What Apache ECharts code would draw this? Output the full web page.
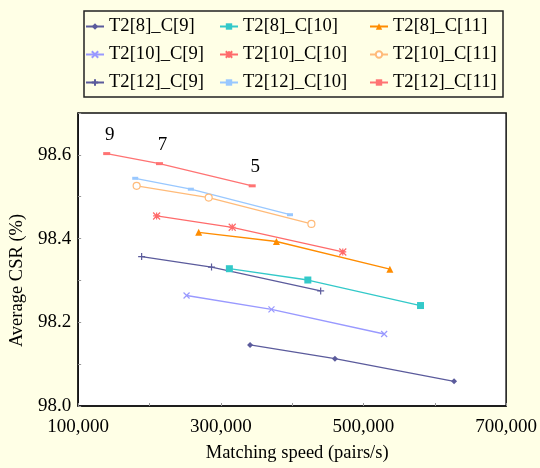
<!DOCTYPE html>
<html>
<head>
<meta charset="utf-8">
<script src="https://cdn.jsdelivr.net/npm/echarts@6/dist/echarts.min.js"></script>
<style>
	html, body { margin: 0; padding: 0; background: #ffffe6; }
	#chart { width: 540px; height: 468px; }
</style>
</head>
<body>
<div id="chart"></div>
<script>
// matching speed (pairs/s) and average CSR (%)
var names = ['T2[8]_C[9]', 'T2[8]_C[10]', 'T2[8]_C[11]',
	'T2[10]_C[9]', 'T2[10]_C[10]', 'T2[10]_C[11]',
	'T2[12]_C[9]', 'T2[12]_C[10]', 'T2[12]_C[11]'];

var speed8c9 = [341000, 460000, 627000];
var csr8c9 = [98.146, 98.113, 98.059];
var speed8c10 = [312000, 422000, 580000];
var csr8c10 = [98.328, 98.301, 98.240];
var speed8c11 = [269000, 378000, 537000];
var csr8c11 = [98.415, 98.393, 98.327];
var speed10c9 = [252000, 371000, 529000];
var csr10c9 = [98.264, 98.231, 98.172];
var speed10c10 = [210000, 316000, 471000];
var csr10c10 = [98.454, 98.427, 98.368];
var speed10c11 = [182000, 283000, 427000];
var csr10c11 = [98.526, 98.498, 98.435];
var speed12c9 = [189000, 287000, 440000];
var csr12c9 = [98.357, 98.332, 98.275];
var speed12c10 = [180000, 258000, 397000];
var csr12c10 = [98.544, 98.518, 98.457];
var speed12c11 = [140000, 214000, 344000];
var csr12c11 = [98.603, 98.579, 98.526];
var pointNotes = ['9', '7', '5'];

var xTicks = ['100,000', '300,000', '500,000', '700,000'];
var yTicks = ['98.0', '98.2', '98.4', '98.6'];

var font = 'Liberation Serif';

function pairs(xs, ys) {
	var out = [];
	for (var i = 0; i < xs.length; i++) out.push([xs[i], ys[i]]);
	return out;
}

function mkSeries(name, xs, ys, color, symbol, size, stroke) {
	return {
		name: name,
		type: 'line',
		data: pairs(xs, ys),
		symbol: symbol,
		symbolSize: size,
		showSymbol: true,
		lineStyle: { color: color, width: 1.3 },
		itemStyle: stroke ? { color: color, borderColor: color, borderWidth: 1.2 } : { color: color },
		emphasis: { disabled: true },
		z: 3
	};
}

var xPath = 'path://M0,0L10,10M10,0L0,10';
var starPath = 'path://M0,0L10,10M10,0L0,10M5,0L5,10M0,5L10,5';
var plusPath = 'path://M5,0L5,10M0,5L10,5';

var series = [
	mkSeries(names[0], speed8c9, csr8c9, '#5b5b9c', 'diamond', 6),
	mkSeries(names[1], speed8c10, csr8c10, '#33c9c9', 'rect', 7),
	mkSeries(names[2], speed8c11, csr8c11, '#ff8c00', 'triangle', 7),
	mkSeries(names[3], speed10c9, csr10c9, '#9999ff', xPath, 6, true),
	mkSeries(names[4], speed10c10, csr10c10, '#ff6b6b', starPath, 7, true),
	{
		name: names[5], type: 'line', data: pairs(speed10c11, csr10c11),
		symbol: 'circle', symbolSize: 7,
		lineStyle: { color: '#ffbb7a', width: 1.3 },
		itemStyle: { color: '#ffffff', borderColor: '#ffbb7a', borderWidth: 1.2 },
		emphasis: { disabled: true }, z: 3
	},
	mkSeries(names[6], speed12c9, csr12c9, '#5b5b9c', plusPath, 7, true),
	mkSeries(names[7], speed12c10, csr12c10, '#99c8ff', 'rect', [6, 3]),
	mkSeries(names[8], speed12c11, csr12c11, '#ff7373', 'rect', [7, 3])
];

series[8].label = {
	show: true,
	position: 'top',
	distance: 8,
	offset: [3, 0],
	formatter: function (p) { return pointNotes[p.dataIndex]; },
	fontFamily: font,
	fontSize: 19,
	color: '#000'
};

function legendCol(items, left) {
	return {
		data: items,
		orient: 'vertical',
		left: left,
		top: 17,
		padding: 0,
		itemWidth: 18,
		itemHeight: 8,
		itemGap: 9,
		textStyle: { fontFamily: font, fontSize: 18.6, lineHeight: 18, color: '#000' }
	};
}

var chart = echarts.init(document.getElementById('chart'));
chart.setOption({
	backgroundColor: '#ffffe6',
	animation: false,
	legend: [
		legendCol([names[0], names[3], names[6]], 85),
		legendCol([names[1], names[4], names[7]], 219),
		legendCol([names[2], names[5], names[8]], 369)
	],
	graphic: [{
		type: 'rect',
		shape: { x: 84, y: 11, width: 419, height: 86 },
		style: { fill: null, stroke: '#222', lineWidth: 1.5 },
		z: -1
	}],
	grid: {
		left: 78, right: 32, top: 113, bottom: 57,
		show: true,
		backgroundColor: '#ffffff',
		borderColor: '#111',
		borderWidth: 1.5
	},
	xAxis: {
		type: 'value',
		min: 100000, max: 700000, interval: 100000,
		name: 'Matching speed (pairs/s)',
		nameLocation: 'middle',
		nameGap: 38,
		nameTextStyle: { fontFamily: font, fontSize: 18.5, color: '#000', padding: [0, 0, 0, 10] },
		axisLine: { show: true, lineStyle: { color: '#111', width: 1.5 } },
		axisTick: { show: true, inside: true, length: 3, lineStyle: { color: '#999' } },
		splitLine: { show: false },
		axisLabel: {
			fontFamily: font, fontSize: 19, color: '#000', margin: 12,
			formatter: function (v) {
				var i = Math.round((v - 100000) / 100000);
				return i % 2 === 0 ? xTicks[i / 2] : '';
			}
		}
	},
	yAxis: {
		type: 'value',
		min: 98.0, max: 98.7, interval: 0.1,
		name: 'Average CSR (%)',
		nameLocation: 'middle',
		nameGap: 48,
		nameTextStyle: { fontFamily: font, fontSize: 18.5, color: '#000', padding: [0, 42, 0, 0] },
		axisLine: { show: true, lineStyle: { color: '#111', width: 1.5 } },
		axisTick: { show: true, inside: true, length: 3, lineStyle: { color: '#999' } },
		splitLine: { show: false },
		axisLabel: {
			fontFamily: font, fontSize: 19, color: '#000', margin: 7,
			formatter: function (v) {
				var i = Math.round((v - 98.0) * 10);
				return i % 2 === 0 && i / 2 < yTicks.length ? yTicks[i / 2] : '';
			}
		}
	},
	series: series
});
</script>
</body>
</html>
